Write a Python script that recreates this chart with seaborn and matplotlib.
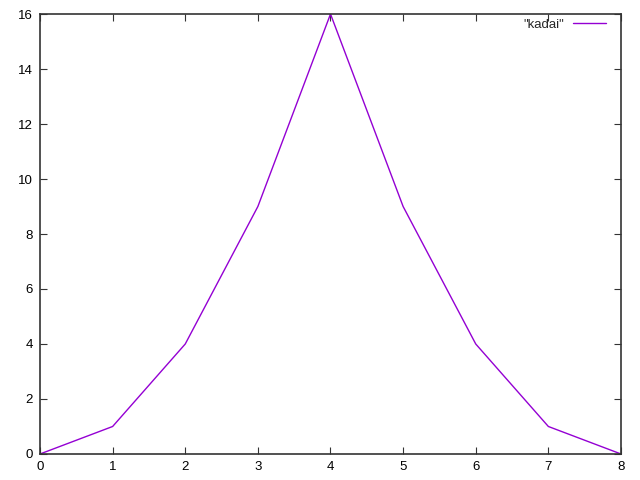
import matplotlib
matplotlib.use("Agg")
import matplotlib.pyplot as plt
import seaborn as sns
import pandas as pd

# datos del grafico
x_vals = [0, 1, 2, 3, 4, 5, 6, 7, 8]
y_vals = [0, 1, 4, 9, 16, 9, 4, 1, 0]
x_ticks = [0, 1, 2, 3, 4, 5, 6, 7, 8]
y_ticks = [0, 2, 4, 6, 8, 10, 12, 14, 16]

df = pd.DataFrame({"x": x_vals, "y": y_vals})

sns.set_style("ticks")
plt.rcParams['font.family'] = ['Liberation Sans', 'DejaVu Sans']

fig = plt.figure(figsize=(6.4, 4.8), dpi=100)
ax = fig.add_axes([0.0625, 0.0542, 0.9078, 0.9166])

sns.lineplot(data=df, x="x", y="y", ax=ax, color="#9400D3", linewidth=1,
             label='"kadai"')

ax.set_xlim(0, 8)
ax.set_ylim(0, 16)
ax.set_xticks(x_ticks)
ax.set_yticks(y_ticks)
ax.set_xlabel("")
ax.set_ylabel("")
ax.tick_params(direction="in", length=5, width=0.8, color="#333333",
               labelsize=9.5, labelcolor="black", top=True, right=True, pad=5)
for s in ax.spines.values():
    s.set_visible(True)
    s.set_linewidth(1.2)
    s.set_color("#333333")

ax.legend(loc="upper right", frameon=False, markerfirst=False, fontsize=9.5,
          handlelength=2.5, handletextpad=0.7, borderaxespad=0.2,
          bbox_to_anchor=(0.988, 1.007))

fig.savefig("out.png", dpi=100)
